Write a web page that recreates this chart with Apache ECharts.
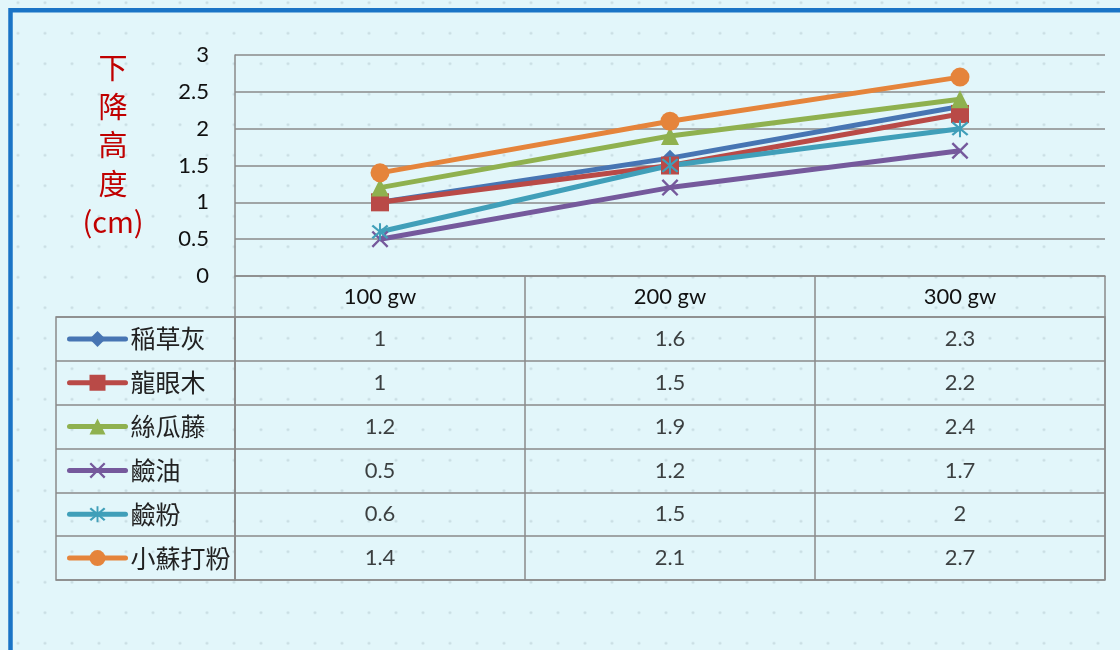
<!DOCTYPE html>
<html>
<head>
<meta charset="utf-8">
<script src="https://cdn.jsdelivr.net/npm/echarts@6/dist/echarts.min.js"></script>
<style>
  html, body { margin: 0; padding: 0; }
  #chart {
    width: 1120px; height: 650px;
    background-color: #e2f6fa;
    background-image: radial-gradient(circle, rgba(110,130,140,0.24) 0.9px, rgba(110,130,140,0) 1.6px);
    background-size: 27px 30.5px;
    background-position: 4.5px 18px;
  }
</style>
</head>
<body>
<div id="chart"></div>
<script>
// Categories (column headers) and the six treatments
const categories = ['100 gw', '200 gw', '300 gw'];
const seriesNames = ['稲草灰', '龍眼木', '絲瓜藤', '鹼油', '鹼粉', '小蘇打粉'];

// Drop height (cm) per treatment
const riceStrawAsh = [1, 1.6, 2.3];
const longanWood   = [1, 1.5, 2.2];
const loofahVine   = [1.2, 1.9, 2.4];
const alkaliOil    = [0.5, 1.2, 1.7];
const alkaliPowder = [0.6, 1.5, 2];
const bakingSoda   = [1.4, 2.1, 2.7];

const seriesValues = [riceStrawAsh, longanWood, loofahVine, alkaliOil, alkaliPowder, bakingSoda];

const axisTitle = '下\n降\n高\n度\n(cm)';

// Styling
const colors = ['#4775B3', '#B94A47', '#8FB14F', '#75599C', '#409FB9', '#E5843B'];
const crossPath = 'path://M1,0 L5,4 L9,0 L10,1 L6,5 L10,9 L9,10 L5,6 L1,10 L0,9 L4,5 L0,1 Z';
const starPath = 'path://M1,0 L5,4 L9,0 L10,1 L6,5 L10,9 L9,10 L5,6 L1,10 L0,9 L4,5 L0,1 Z M4.4,-1 L5.6,-1 L5.6,11 L4.4,11 Z';
const symbols = ['diamond', 'rect', 'triangle', crossPath, starPath, 'circle'];
const symbolSizes = [17, 18, 18, 17, 17, 19];

const gridColor = '#8a8a8a';
const numFont = 'Lato, "Noto Sans CJK TC", sans-serif';
const cjkFont = '"Noto Sans CJK TC", sans-serif';

const lineSeries = seriesNames.map((name, i) => ({
  name: name,
  type: 'line',
  xAxisIndex: 0,
  yAxisIndex: 0,
  data: seriesValues[i],
  symbol: symbols[i],
  symbolSize: symbolSizes[i],
  showSymbol: true,
  itemStyle: { color: colors[i] },
  lineStyle: { color: colors[i], width: 5 },
  emphasis: { disabled: true },
  animation: false
}));

// Data-table cells: [column, row, value]
const tableCells = [];
seriesValues.forEach((vals, r) => {
  vals.forEach((v, c) => tableCells.push([c, r, v]));
});

const tableSeries = {
  name: 'table',
  type: 'scatter',
  xAxisIndex: 2,
  yAxisIndex: 2,
  data: tableCells,
  symbolSize: 1,
  itemStyle: { color: 'rgba(0,0,0,0)' },
  silent: true,
  animation: false,
  label: {
    show: true,
    position: 'inside',
    formatter: p => String(p.value[2]),
    fontSize: 22,
    color: '#111',
    fontFamily: numFont
  }
};

const chart = echarts.init(document.getElementById('chart'), null, { renderer: 'canvas' });

const rowTop = 317, tableBottom = 580;
const rowH = (tableBottom - rowTop) / seriesNames.length;

chart.setOption({
  backgroundColor: 'transparent',
  animation: false,
  textStyle: { fontFamily: numFont },
  grid: [
    { left: 235, right: 15, top: 55, height: 221 },
    { left: 56, width: 179, top: rowTop, height: tableBottom - rowTop,
      show: true, borderColor: gridColor, borderWidth: 1.5, backgroundColor: 'transparent' },
    { left: 235, right: 15, top: rowTop, height: tableBottom - rowTop,
      show: true, borderColor: gridColor, borderWidth: 1.5, backgroundColor: 'transparent' }
  ],
  xAxis: [
    {
      gridIndex: 0, type: 'category', data: categories, boundaryGap: true,
      axisLine: { show: true, lineStyle: { color: gridColor, width: 1.5 } },
      axisTick: { show: true, length: 41, interval: 0, alignWithLabel: false,
                  lineStyle: { color: gridColor, width: 1.5 } },
      axisLabel: { fontSize: 22, color: '#111', margin: 10, fontFamily: numFont }
    },
    { gridIndex: 1, type: 'value', show: false },
    {
      gridIndex: 2, type: 'category', data: categories, boundaryGap: true,
      axisLine: { show: false }, axisTick: { show: false }, axisLabel: { show: false },
      splitLine: { show: true, interval: 0, lineStyle: { color: gridColor, width: 1.5 } }
    }
  ],
  yAxis: [
    {
      gridIndex: 0, type: 'value', min: 0, max: 3, interval: 0.5,
      axisLine: { show: true, lineStyle: { color: gridColor, width: 1.5 } },
      axisTick: { show: false },
      axisLabel: { fontSize: 22, color: '#111', margin: 26, fontFamily: numFont },
      splitLine: { show: true, lineStyle: { color: gridColor, width: 1.5 } }
    },
    {
      gridIndex: 1, type: 'category', data: seriesNames, inverse: true,
      axisLine: { show: false }, axisTick: { show: false }, axisLabel: { show: false },
      splitLine: { show: true, interval: 0, lineStyle: { color: gridColor, width: 1.5 } }
    },
    {
      gridIndex: 2, type: 'category', data: seriesNames, inverse: true,
      axisLine: { show: false }, axisTick: { show: false }, axisLabel: { show: false },
      splitLine: { show: true, interval: 0, lineStyle: { color: gridColor, width: 1.5 } }
    }
  ],
  legend: {
    data: seriesNames,
    orient: 'vertical',
    left: 62,
    top: rowTop + rowH / 2 - 20,
    itemWidth: 56,
    itemHeight: 20,
    itemGap: rowH - 30,
    selectedMode: false,
    lineStyle: { width: 5, cap: 'round' },
    textStyle: { fontSize: 25, lineHeight: 30, color: '#222', fontFamily: cjkFont }
  },
  graphic: [
    {
      type: 'text', x: 113, y: 49, silent: true,
      style: {
        text: axisTitle, fill: '#C00000', fontSize: 29, lineHeight: 38.5,
        fontFamily: cjkFont,
        align: 'center', verticalAlign: 'top'
      }
    },
    {
      type: 'rect', silent: true, z: 100,
      shape: { x: 10.5, y: 10.2, width: 1300, height: 900 },
      style: { fill: 'none', stroke: '#1a74c6', lineWidth: 4.5 }
    }
  ],
  series: lineSeries.concat([tableSeries])
});
</script>
</body>
</html>
